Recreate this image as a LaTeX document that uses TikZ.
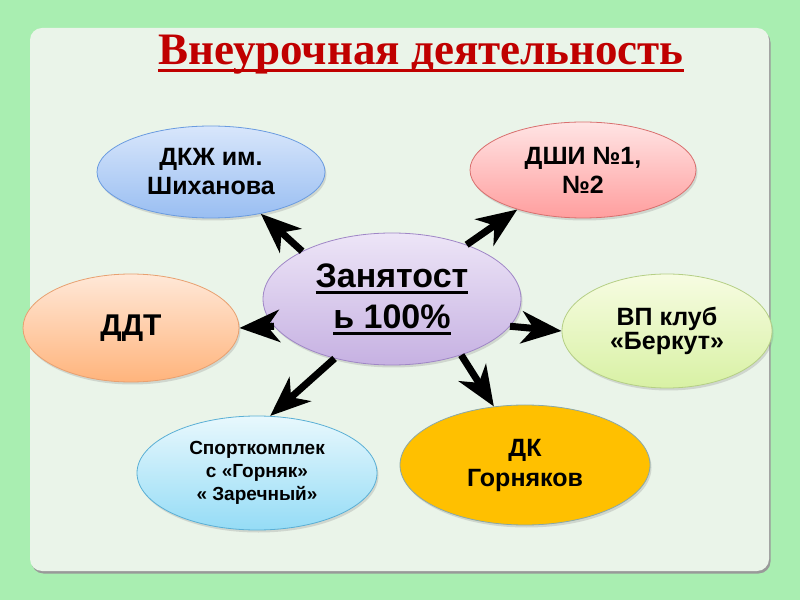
\documentclass[tikz,border=0pt]{standalone}
\usepackage{fontspec}
\setmainfont{Liberation Sans}
\newfontfamily\titlefont{Liberation Serif}
\usepackage{xcolor}
\usetikzlibrary{arrows.meta,shapes.geometric,shadows}
\definecolor{slideGreen}{HTML}{A9EEB1}
\definecolor{panelMist}{HTML}{EAF4E9}
\definecolor{titleRed}{HTML}{C00000}
\definecolor{lilacTop}{HTML}{EDE5F7}
\definecolor{lilacBot}{HTML}{C6B1E2}
\definecolor{lilacLine}{HTML}{9F86C6}
\definecolor{blueTop}{HTML}{D8E6FB}
\definecolor{blueBot}{HTML}{99BEF2}
\definecolor{blueLine}{HTML}{6A9BE0}
\definecolor{pinkTop}{HTML}{FFE4E4}
\definecolor{pinkBot}{HTML}{FF9E9E}
\definecolor{pinkLine}{HTML}{D9706F}
\definecolor{peachTop}{HTML}{FFE8D8}
\definecolor{peachBot}{HTML}{FFB47C}
\definecolor{peachLine}{HTML}{E8A070}
\definecolor{limeTop}{HTML}{F7FCE2}
\definecolor{limeBot}{HTML}{D8F1A4}
\definecolor{limeLine}{HTML}{B5CF85}
\definecolor{skyTop}{HTML}{E8F8FD}
\definecolor{skyBot}{HTML}{95DCF6}
\definecolor{skyLine}{HTML}{5AAFD5}
\definecolor{goldFill}{HTML}{FFC000}
\definecolor{goldLine}{HTML}{8AA8A8}
% подчёркивание: глубина, толщина, текст
\newcommand\ulbar[3]{\leavevmode\setbox0\hbox{#3}\rlap{\rule[-#1]{\wd0}{#2}}\box0}

\begin{document}
\begin{tikzpicture}[
  x=1pt,y=1pt,
  every node/.style={align=center, text=black},
  bubble/.style={ellipse,inner sep=0pt,line width=0.8pt,
    drop shadow={shadow xshift=1.5pt,shadow yshift=-2.5pt,opacity=0.25}},
  hub/.style={bubble,draw=lilacLine,top color=lilacTop,bottom color=lilacBot,
    minimum width=258pt,minimum height=132pt},
  arrow/.style={-{Stealth[length=40pt,width=32pt,inset=12pt]},line width=7pt}
]
% Фон и панель
\fill[slideGreen] (0,0) rectangle (800,600);
\fill[black!40,rounded corners=12pt] (31.5,26.5) rectangle (770.5,569.5);
\fill[panelMist,rounded corners=12pt] (30,29) rectangle (769,572);

% Заголовок
\node[anchor=base,text=titleRed,font=\titlefont\bfseries\fontsize{45}{50}\selectfont] (title) at (421,535)
  {\ulbar{7pt}{3pt}{Внеурочная деятельность}};

% Центр
\node[hub,font=\bfseries\fontsize{34}{41}\selectfont] (ctr) at (392,301)
  {\ulbar{6.5pt}{2.5pt}{Занятост}\\\ulbar{6.5pt}{2.5pt}{ь 100\%}};

% Вокруг центра
\node[bubble,draw=blueLine,top color=blueTop,bottom color=blueBot,minimum width=228pt,minimum height=92pt,
  font=\bfseries\fontsize{25}{29}\selectfont] (dkzh) at (211,428) {ДКЖ им.\\Шиханова};
\node[bubble,draw=pinkLine,top color=pinkTop,bottom color=pinkBot,minimum width=226pt,minimum height=96pt,
  font=\bfseries\fontsize{25}{29}\selectfont] (dshi) at (583,430) {ДШИ №1,\\№2};
\node[bubble,draw=peachLine,top color=peachTop,bottom color=peachBot,minimum width=216pt,minimum height=108pt,
  font=\bfseries\fontsize{30}{34}\selectfont] (ddt) at (131,272) {ДДТ};
\node[bubble,draw=limeLine,top color=limeTop,bottom color=limeBot,minimum width=210pt,minimum height=114pt,
  font=\bfseries\fontsize{25}{24}\selectfont] (vp) at (667,269) {ВП клуб\\«Беркут»};
\node[bubble,draw=skyLine,top color=skyTop,bottom color=skyBot,minimum width=240pt,minimum height=114pt,
  font=\bfseries\fontsize{19}{23}\selectfont] (sport) at (257,127) {Спорткомплек\\с «Горняк»\\« Заречный»};
\node[bubble,draw=goldLine,fill=goldFill,minimum width=250pt,minimum height=120pt,
  font=\bfseries\fontsize{25}{30}\selectfont] (dk) at (525,135) {ДК\\Горняков};

% Стрелки
\draw[arrow] (ctr.152) -- (dkzh.320);
\draw[arrow] (ctr.36) -- (dshi.211);
\draw[arrow] (ctr.193) -- (ddt.east);
\draw[arrow] (ctr.347) -- (vp.west);
\draw[arrow] (ctr.226) -- (sport.77);
\draw[arrow] (ctr.321) -- (dk.118);
\end{tikzpicture}
\end{document}
